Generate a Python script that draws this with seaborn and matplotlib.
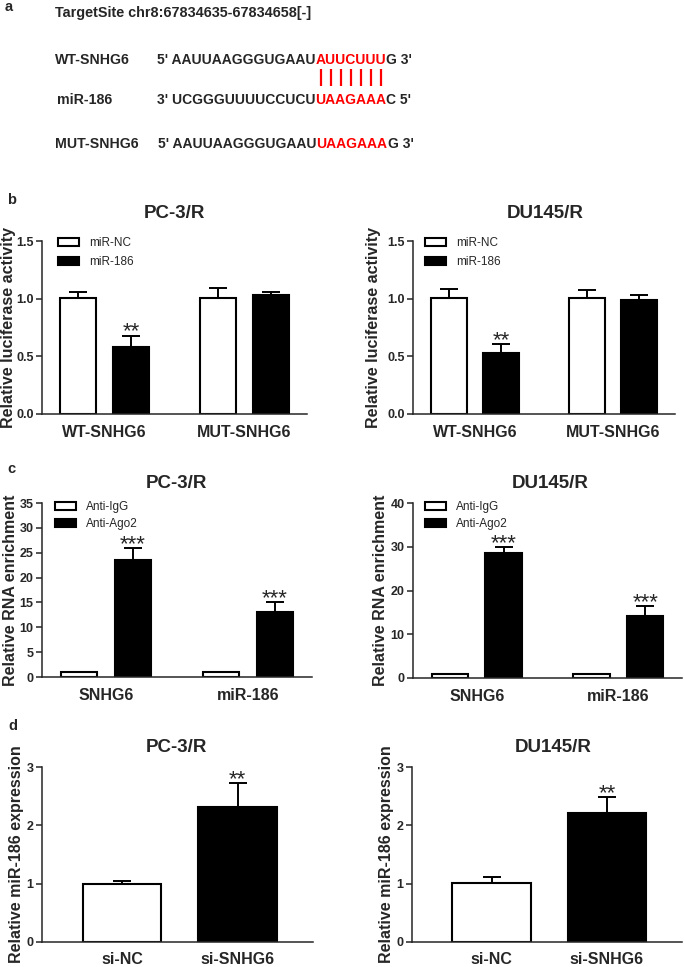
import numpy as np
import pandas as pd
import seaborn as sns
import matplotlib.pyplot as plt
from matplotlib.patches import Patch

W, H = 685, 967
RED = "#ff0000"

# panel a: target site sequences
target_site = "TargetSite chr8:67834635-67834658[-]"
seq_names = ["WT-SNHG6", "miR-186", "MUT-SNHG6"]
seq_left = ["5' AAUUAAGGGUGAAU", "3' UCGGGUUUUCCUCU", "5' AAUUAAGGGUGAAU"]
seq_mid = ["AUUCUUU", "UAAGAAA", "UAAGAAA"]
seq_right = ["G 3'", "C 5'", "G 3'"]

# panel b: luciferase activity
b_groups = ["WT-SNHG6", "MUT-SNHG6"]
b_treats = ["miR-NC", "miR-186"]
b_pc3_nc = [1.01, 1.01]
b_pc3_mir = [0.58, 1.03]
b_pc3_nc_err = [0.045, 0.08]
b_pc3_mir_err = [0.10, 0.026]
b_du_nc = [1.01, 1.01]
b_du_mir = [0.53, 0.99]
b_du_nc_err = [0.075, 0.065]
b_du_mir_err = [0.08, 0.043]
b_stars_nc = ["", ""]
b_stars_mir = ["**", ""]

# panel c: RIP enrichment
c_groups = ["SNHG6", "miR-186"]
c_treats = ["Anti-IgG", "Anti-Ago2"]
c_pc3_igg = [1.0, 1.0]
c_pc3_ago = [23.5, 13.1]
c_pc3_igg_err = [0, 0]
c_pc3_ago_err = [2.5, 2.0]
c_du_igg = [1.0, 1.0]
c_du_ago = [28.6, 14.2]
c_du_igg_err = [0, 0]
c_du_ago_err = [1.4, 2.3]
c_stars_igg = ["", ""]
c_stars_ago = ["***", "***"]

# panel d: miR-186 expression
d_groups = ["si-NC", "si-SNHG6"]
d_pc3 = [1.0, 2.32]
d_pc3_err = [0.05, 0.40]
d_du = [1.01, 2.22]
d_du_err = [0.10, 0.26]
d_stars = ["", "**"]

sns.set_style("ticks")
plt.rcParams["font.family"] = ["Liberation Sans", "DejaVu Sans"]
plt.rcParams["font.weight"] = "bold"
plt.rcParams["axes.linewidth"] = 1.1


def box(x0, x1, ytop, ybot):
    return [x0 / W, 1 - ybot / H, (x1 - x0) / W, (ybot - ytop) / H]


def add_errors(ax, containers, errs, stars):
    for cont, err_list, star_list in zip(containers, errs, stars):
        for bar, e, s in zip(cont, err_list, star_list):
            x = bar.get_x() + bar.get_width() / 2
            top = bar.get_height()
            if e > 0:
                ax.errorbar(x, top, yerr=[[0], [e]], fmt="none", ecolor="black",
                            elinewidth=1.4, capsize=6.5, capthick=1.4, zorder=0.5)
            if s:
                ax.annotate(s, (x, top + e), xytext=(0, -1.5), textcoords="offset points",
                            ha="center", va="baseline", fontsize=16, fontweight="normal")


def style_axes(ax, ylim, yticks, xlim, ylabel, label_right_px, axis_left_px, axis_w_px, xpad):
    sns.despine(ax=ax)
    ax.set_xlim(xlim)
    ax.set_ylim(ylim)
    ax.set_yticks(yticks)
    ax.set_xlabel("")
    ax.set_ylabel(ylabel, fontsize=11.5, fontweight="bold")
    ax.yaxis.set_label_coords((label_right_px - axis_left_px) / axis_w_px, 0.5)
    ax.tick_params(axis="x", length=0, pad=xpad, labelsize=11.5)
    ax.tick_params(axis="y", length=4, width=1.1, labelsize=9, pad=2)


def grouped_panel(ax, groups, treats, v0, v1, e0, e1, s0, s1, ylim, yticks, ylabel,
                  label_right_px, axis_left_px, axis_w_px, leg_anchor, leg_spacing):
    df = pd.DataFrame({"group": groups * 2,
                       "treat": [treats[0]] * len(groups) + [treats[1]] * len(groups),
                       "value": v0 + v1})
    sns.barplot(data=df, x="group", y="value", hue="treat", order=groups, hue_order=treats,
                palette=["white", "black"], edgecolor="black", linewidth=1.5,
                width=0.76, gap=0.32, errorbar=None, legend=False, ax=ax)
    conts = list(ax.containers)
    add_errors(ax, conts, [e0, e1], [s0, s1])
    style_axes(ax, ylim, yticks, (-0.45, 1.45), ylabel, label_right_px, axis_left_px, axis_w_px, 8)
    handles = [Patch(facecolor=c, edgecolor="black", linewidth=1.5, label=t)
               for c, t in zip(["white", "black"], treats)]
    ax.legend(handles=handles, loc="upper left", bbox_to_anchor=leg_anchor, frameon=False,
              prop={"size": 8.5, "weight": "normal"}, handlelength=1.75, handleheight=0.65,
              handletextpad=0.9, labelspacing=leg_spacing, borderpad=0, borderaxespad=0)


def single_panel(ax, groups, vals, errs, stars, ylim, yticks, ylabel,
                 label_right_px, axis_left_px, axis_w_px):
    df = pd.DataFrame({"group": groups, "value": vals})
    sns.barplot(data=df, x="group", y="value", hue="group", order=groups, hue_order=groups,
                palette=["white", "black"], edgecolor="black", linewidth=1.5,
                width=0.68, errorbar=None, legend=False, ax=ax)
    conts = list(ax.containers)
    add_errors(ax, conts, [[e] for e in errs], [[s] for s in stars])
    style_axes(ax, ylim, yticks, (-0.69, 1.65), ylabel, label_right_px, axis_left_px, axis_w_px, 7)


fig = plt.figure(figsize=(W / 100, H / 100), dpi=100)

# full-figure overlay in pixel coordinates for panel a and labels
ax_a = fig.add_axes([0, 0, 1, 1])
ax_a.set_xlim(0, W)
ax_a.set_ylim(H, 0)
ax_a.axis("off")

for letter, x, y in [("a", 5, 7), ("b", 7, 200), ("c", 7, 469), ("d", 8, 726)]:
    ax_a.text(x, y, letter, fontsize=10.5, fontweight="bold", ha="left", va="center")

ax_a.text(55, 13.5, target_site, fontsize=10.4, ha="left", va="center")
row_y = [60, 100, 144]
name_x = [55, 57, 55]
seq_x = [157, 157, 158]
red_parts = []
for name, left, mid, right, y, nx, sx in zip(seq_names, seq_left, seq_mid, seq_right,
                                              row_y, name_x, seq_x):
    ax_a.text(nx, y, name, fontsize=10.2, ha="left", va="center")
    t1 = ax_a.text(sx, y, left, fontsize=10, ha="left", va="center")
    t2 = ax_a.annotate(mid, xy=(1, 0), xycoords=t1, fontsize=10, color=RED,
                       ha="left", va="bottom")
    ax_a.annotate(right, xy=(1, 0), xycoords=t2, fontsize=10, ha="left", va="bottom")
    red_parts.append(t2)

# pairing bars between WT-SNHG6 and miR-186 seed match
fig.canvas.draw()
bb = red_parts[0].get_window_extent()
(x0, _), (x1, _) = ax_a.transData.inverted().transform([[bb.x0, bb.y0], [bb.x1, bb.y1]])
n = len(seq_mid[0])
pair_x = [x0 + (i + 0.5) * (x1 - x0) / n for i in range(n)]
ax_a.vlines(pair_x, 69, 86, color=RED, lw=1.6)

# titles
for txt, x, y in [("PC-3/R", 174, 213), ("DU145/R", 545, 213),
                  ("PC-3/R", 176, 483), ("DU145/R", 550, 483),
                  ("PC-3/R", 176, 747), ("DU145/R", 553, 747)]:
    ax_a.text(x, y, txt, fontsize=13.5, fontweight="bold", ha="center", va="center")

# panel b
ax = fig.add_axes(box(42, 307, 241, 414))
grouped_panel(ax, b_groups, b_treats, b_pc3_nc, b_pc3_mir, b_pc3_nc_err, b_pc3_mir_err,
              b_stars_nc, b_stars_mir, (0, 1.5), [0, 0.5, 1.0, 1.5],
              "Relative luciferase activity", 16.5, 42, 265, (16 / 265, 1 + 4 / 173), 0.6)
ax.yaxis.set_major_formatter("{x:.1f}")

ax = fig.add_axes(box(413, 675, 241, 414))
grouped_panel(ax, b_groups, b_treats, b_du_nc, b_du_mir, b_du_nc_err, b_du_mir_err,
              b_stars_nc, b_stars_mir, (0, 1.5), [0, 0.5, 1.0, 1.5],
              "Relative luciferase activity", 381, 413, 262, (12 / 262, 1 + 4 / 173), 0.6)
ax.yaxis.set_major_formatter("{x:.1f}")

# panel c
ax = fig.add_axes(box(42, 312, 503, 677))
grouped_panel(ax, c_groups, c_treats, c_pc3_igg, c_pc3_ago, c_pc3_igg_err, c_pc3_ago_err,
              c_stars_igg, c_stars_ago, (0, 35), [0, 5, 10, 15, 20, 25, 30, 35],
              "Relative RNA enrichment", 18.5, 42, 270, (13 / 270, 1 + 2 / 174), 0.4)

ax = fig.add_axes(box(413, 682, 503, 678))
grouped_panel(ax, c_groups, c_treats, c_du_igg, c_du_ago, c_du_igg_err, c_du_ago_err,
              c_stars_igg, c_stars_ago, (0, 40), [0, 10, 20, 30, 40],
              "Relative RNA enrichment", 388, 413, 269, (12 / 269, 1 + 2 / 175), 0.4)

# panel d
ax = fig.add_axes(box(42, 313, 767, 942))
single_panel(ax, d_groups, d_pc3, d_pc3_err, d_stars, (0, 3), [0, 1, 2, 3],
             "Relative miR-186 expression", 24, 42, 271)

ax = fig.add_axes(box(412, 682, 767, 942))
single_panel(ax, d_groups, d_du, d_du_err, d_stars, (0, 3), [0, 1, 2, 3],
             "Relative miR-186 expression", 394, 412, 270)

fig.savefig("out.png", dpi=100)
